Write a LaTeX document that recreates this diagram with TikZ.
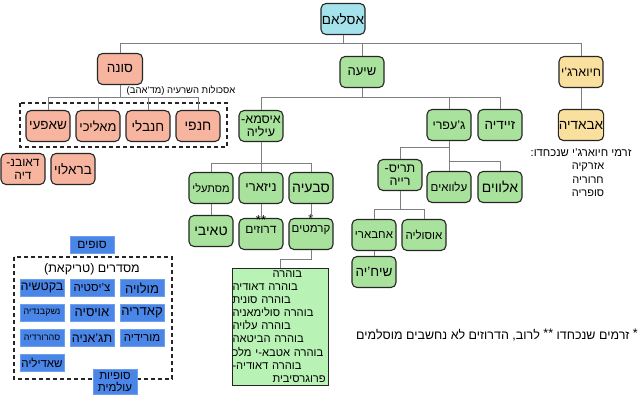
\documentclass[tikz,border=0pt]{standalone}
\usepackage{fontspec}
\setmainfont{Liberation Sans}[Script=Hebrew]
\TeXXeTstate=1
\newcommand\heR[1]{\beginR#1\endR}
\newcommand\fsz[1]{\fontsize{#1}{#1}\selectfont}
\newcommand\fsl[2]{\fontsize{#1}{#2}\selectfont}
\definecolor{cyanC}{HTML}{A5E3EC}
\definecolor{greenC}{HTML}{A8E29C}
\definecolor{salmonC}{HTML}{F7B5A0}
\definecolor{yellowC}{HTML}{FAE09E}
\definecolor{listC}{HTML}{B8F2B4}
\definecolor{blueC}{HTML}{4A86E8}
\definecolor{blueB}{HTML}{6FA0EE}
\definecolor{lineC}{HTML}{7F7F7F}
\definecolor{edgeC}{HTML}{262626}
\begin{document}
\begin{tikzpicture}[x=1pt,y=-1pt,
  box/.style={draw=edgeC, line width=1.1pt, rounded corners=5pt, minimum width=44pt, minimum height=31pt, inner sep=0.5pt, align=center},
  cyanbox/.style={box, fill=cyanC},
  greenbox/.style={box, fill=greenC},
  salmonbox/.style={box, fill=salmonC},
  yellowbox/.style={box, fill=yellowC},
  sbox/.style={draw=blueB, line width=0.6pt, fill=blueC, minimum width=44pt, minimum height=17pt, inner sep=0pt, align=center},
  conn/.style={draw=lineC, line width=0.9pt},
  dashrect/.style={draw=edgeC, line width=1.2pt, dash pattern=on 4pt off 3pt},
  plain/.style={inner sep=0pt, align=center}]
\useasboundingbox (0,0) rectangle (640,406);
\fill[white] (0,0) rectangle (640,406);

% dashed groups
\draw[dashrect] (20,103) rectangle (227,147);
\draw[dashrect] (14,257) rectangle (172,379);

% top level
\node[cyanbox, font=\fsz{13.5}] (islam) at (343,19) {\heR{אסלאם}};
\node[salmonbox, minimum width=45pt, font=\fsz{13.5}] (sunna) at (120,69) {\heR{סונה}};
\node[greenbox, font=\fsz{13}] (shia) at (362,72) {\heR{שיעה}};
\node[yellowbox, font=\fsz{12.5}] (khaw) at (581,72) {\heR{חיוארג'י}};

% sunni
\node[plain, font=\fsz{9.5}] (madhab) at (181,91) {\heR{אסכולות השרעיה (מד'אהב)}};
\node[salmonbox, font=\fsz{13.5}] (shafii) at (48,126) {\heR{שאפעי}};
\node[salmonbox, font=\fsz{13}] (maliki) at (98,126) {\heR{מאליכי}};
\node[salmonbox, font=\fsz{13.5}] (hanbali) at (148,126) {\heR{חנבלי}};
\node[salmonbox, font=\fsz{14}] (hanafi) at (198,126) {\heR{חנפי}};
\node[salmonbox, font=\fsl{12}{13}] (deob) at (23,169) {\heR{דאובנ-}\\\heR{דיה}};
\node[salmonbox, font=\fsz{13.5}] (barelvi) at (73,169) {\heR{בראלוי}};

% shia
\node[greenbox, font=\fsl{12.5}{13}] (ismaili) at (261,126) {\heR{איסמא-}\\\heR{עיליה}};
\node[greenbox, font=\fsz{12.5}] (jafari) at (449,125) {\heR{ג'עפרי}};
\node[greenbox, font=\fsz{13.5}] (zaydi) at (500,125) {\heR{זיידיה}};
\node[yellowbox, font=\fsz{13.5}] (ibadi) at (581,125) {\heR{אבאדיה}};

\node[plain, font=\fsz{11.3}] (ext1) at (581,153) {\heR{זרמי חיוארג'י שנכחדו\kern0pt:}};
\node[plain, font=\fsz{11}] (ext2) at (588,167) {\heR{אזרקיה}};
\node[plain, font=\fsz{11}] (ext3) at (588,180) {\heR{חרוריה}};
\node[plain, font=\fsz{11}] (ext4) at (588,193) {\heR{סופריה}};

\node[greenbox, font=\fsz{11}] (mustali) at (211,188) {\heR{מסתעלי}};
\node[greenbox, font=\fsz{13}] (nizari) at (261,188) {\heR{ניזארי}};
\node[greenbox, font=\fsz{14}] (sabia) at (311,188) {\heR{סבעיה}};
\node[greenbox, font=\fsz{14}] (tayyibi) at (211,231) {\heR{טאיבי}};
\node[greenbox, font=\fsz{12}] (druze) at (261,234) {\ooalign{\hidewidth\smash{\raisebox{9.5pt}{\fsz{13}**}}\hidewidth\cr\heR{דרוזים}}};
\node[greenbox, font=\fsz{11.5}] (qarmat) at (311,234) {\ooalign{\hidewidth\smash{\raisebox{9.5pt}{\fsz{13}*}}\hidewidth\cr\heR{קרמטים}}};

\node[draw=edgeC, line width=0.8pt, fill=listC, text width=95pt, inner xsep=0.5pt, inner ysep=0pt, minimum height=117pt, align=left, font=\fsl{11.2}{13.1}] (bohra) at (280,326.5)
 {\hspace*{40pt}\mbox{\heR{בוהרה}}\\
  \mbox{\heR{בוהרה דאודיה}}\\
  \mbox{\heR{בוהרה סונית}}\\
  \mbox{\heR{בוהרה סולימאניה}}\\
  \mbox{\heR{בוהרה עלויה}}\\
  \mbox{\heR{בוהרה הביטאה}}\\
  \mbox{\heR{בוהרה אטבא-י מלכ}}\\
  \mbox{\heR{בוהרה דאודיה-}}\\
  \hspace*{40pt}\mbox{\heR{פרוגרסיבית}}};

\node[greenbox, font=\fsl{12.5}{13}] (twelver) at (400,175) {\heR{תריס-}\\\heR{רייה}};
\node[greenbox, font=\fsz{11.5}] (alawi) at (449,187) {\heR{עלוואים}};
\node[greenbox, font=\fsz{14}] (alevi) at (500,187) {\heR{אלווים}};
\node[greenbox, font=\fsz{11.5}] (akhbari) at (374,235) {\heR{אחבארי}};
\node[greenbox, font=\fsz{11.5}] (usuli) at (424,235) {\heR{אוסוליה}};
\node[greenbox, font=\fsz{13.5}] (shaykhi) at (374,272) {\heR{שיח'יה}};

\node[plain, font=\fsz{12.5}] (foot) at (497,335) {\heR{\raisebox{2pt}{*} זרמים שנכחדו \raisebox{2pt}{**} לרוב\kern0pt, הדרוזים לא נחשבים מוסלמים}};

% sufi
\node[sbox, font=\fsz{12}] (sufis) at (92,245) {\heR{סופים}};
\node[plain, font=\fsz{12.5}] (tariqa) at (92,269) {\heR{מסדרים (טריקאת)}};
\node[sbox, font=\fsz{13}] (mevlevi) at (142,288) {\heR{מולויה}};
\node[sbox, font=\fsz{11.5}] (chishti) at (92,288) {\heR{צ'יסטיה}};
\node[sbox, font=\fsz{12.5}] (bektashi) at (42,288) {\heR{בקטשיה}};
\node[sbox, font=\fsz{13}] (qadiri) at (142,313) {\heR{קאדריה}};
\node[sbox, font=\fsz{13}] (uwaysi) at (92,313) {\heR{אויסיה}};
\node[sbox, font=\fsz{9}] (naqsh) at (42,313) {\heR{נשקבנדיה}};
\node[sbox, font=\fsz{11.5}] (muridi) at (142,338) {\heR{מורידיה}};
\node[sbox, font=\fsz{12.5}] (tijani) at (92,338) {\heR{תג'אניה}};
\node[sbox, font=\fsz{9}] (suhra) at (42,338) {\heR{סהרורדיה}};
\node[sbox, font=\fsz{11.5}] (shadhili) at (42,363) {\heR{שאדיליה}};
\node[sbox, minimum height=25pt, font=\fsl{11.5}{12}] (global) at (115,382) {\heR{סופיות}\\\heR{עולמית}};

% connectors
\coordinate (j0) at (343,43);
\draw[conn] (islam.south) -- (j0);
\draw[conn] (j0) -| (sunna.north);
\draw[conn] (j0) -| (shia.north);
\draw[conn] (j0) -| (khaw.north);

\coordinate (j1) at (120,97);
\draw[conn] (sunna.south) -- (j1);
\draw[conn] (j1) -| (shafii.north);
\draw[conn] (j1) -| (maliki.north);
\draw[conn] (j1) -| (hanbali.north);
\draw[conn] (j1) -| (hanafi.north);

\coordinate (j2) at (362,97);
\draw[conn] (shia.south) -- (j2);
\draw[conn] (j2) -| (ismaili.north);
\draw[conn] (j2) -| (jafari.north);
\draw[conn] (j2) -| (zaydi.north);
\draw[conn] (khaw.south) -- (ibadi.north);

\coordinate (j3) at (261,163);
\draw[conn] (ismaili.south) -- (j3);
\draw[conn] (j3) -| (mustali.north);
\draw[conn] (j3) -| (nizari.north);
\draw[conn] (j3) -| (sabia.north);
\draw[conn] (mustali.south) -- (tayyibi.north);
\draw[conn] (nizari.south) -- (druze.north);
\draw[conn] (sabia.south) -- (qarmat.north);
\coordinate (j4) at (311,259);
\draw[conn] (qarmat.south) -- (j4) -| (bohra.north);

\coordinate (j5) at (449,147);
\coordinate (j6) at (449,161);
\draw[conn] (jafari.south) -- (j6);
\draw[conn] (j5) -| (twelver.north);
\draw[conn] (j6) -- (alawi.north);
\draw[conn] (j6) -| (alevi.north);

\coordinate (j7) at (400,209);
\draw[conn] (twelver.south) -- (j7);
\draw[conn] (j7) -| (akhbari.north);
\draw[conn] (j7) -| (usuli.north);
\draw[conn] (akhbari.south) -- (shaykhi.north);
\end{tikzpicture}
\end{document}
